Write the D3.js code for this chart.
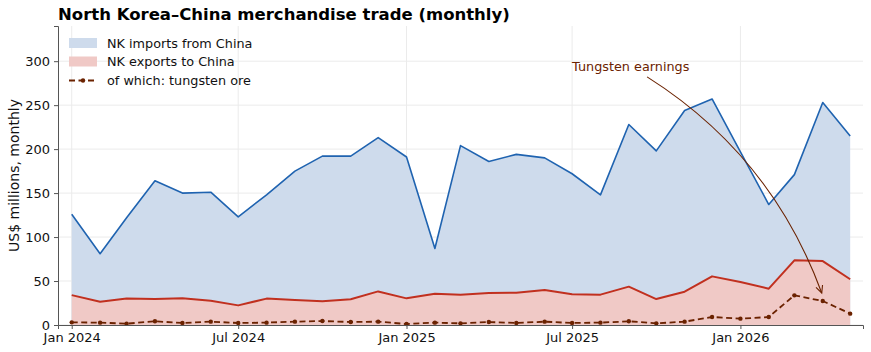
<!DOCTYPE html>
<html>
<head>
<meta charset="utf-8">
<script src="https://cdn.jsdelivr.net/npm/d3@7"></script>
<style>
  body { margin: 0; background: #fff; }
  svg { font-family: "DejaVu Sans", sans-serif; }
</style>
</head>
<body>
<div id="chart"></div>
<script>
// monthly values, Jan 2024 .. May 2026 (US$ millions)
const months = d3.timeMonths(new Date(2024, 0, 1), new Date(2026, 5, 1));
const imports = [126, 81, 122, 164, 150, 151, 123, 148, 175, 192, 192, 213,
                 191, 87, 204, 186, 194, 190, 172, 148, 228, 198, 244, 257,
                 197, 137, 171, 253, 215];
const exports = [34, 26.5, 30, 29.5, 30.5, 27.7, 22.3, 30, 28.4, 27, 29.2, 38.2,
                 30.3, 35.6, 34.5, 36.4, 36.7, 39.8, 35, 34.5, 43.6, 29.5, 37.9, 55.3,
                 48.9, 41.3, 73.5, 72.7, 52];
const tungsten = [3, 2.7, 1.5, 4.2, 2.3, 3.8, 2.3, 2.7, 3.8, 4.5, 3.4, 3.8,
                  1.1, 2.7, 1.9, 3.4, 2.3, 3.8, 2.3, 2.7, 4.2, 1.9, 3.8, 9.1,
                  7.2, 9.1, 33.7, 27.3, 12.9];
const yTicks = [0, 50, 100, 150, 200, 250, 300];
const xTicks = [new Date(2024, 0, 1), new Date(2024, 6, 1), new Date(2025, 0, 1),
                new Date(2025, 6, 1), new Date(2026, 0, 1)];
const legendItems = ["NK imports from China", "NK exports to China", "of which: tungsten ore"];

const data = months.map((m, i) => ({ date: m, imp: imports[i], exp: exports[i], tun: tungsten[i] }));

const width = 871, height = 352;
const margin = { top: 26, right: 8, bottom: 27, left: 58 };

const svg = d3.select("#chart").append("svg")
    .attr("width", width)
    .attr("height", height);

const x = d3.scaleTime()
    .domain([d3.timeDay.offset(months[0], -15), d3.timeDay.offset(months[months.length - 1], 14)])
    .range([margin.left, width - margin.right]);
const y = d3.scaleLinear()
    .domain([0, 340])
    .range([height - margin.bottom, margin.top]);

const blueLine = "#1f63b0", blueFill = "#cedbec";
const redLine = "#c1301f", redFill = "#f0c9c6";
const brown = "#6b2200";

// grid
svg.append("g").selectAll("line")
    .data(yTicks).join("line")
    .attr("x1", margin.left).attr("x2", width - margin.right)
    .attr("y1", d => y(d)).attr("y2", d => y(d))
    .attr("stroke", "#ebebeb").attr("stroke-width", 1);
svg.append("g").selectAll("line")
    .data(xTicks).join("line")
    .attr("x1", d => x(d)).attr("x2", d => x(d))
    .attr("y1", margin.top).attr("y2", height - margin.bottom)
    .attr("stroke", "#ebebeb").attr("stroke-width", 1);

// areas + lines
const area = key => d3.area().x(d => x(d.date)).y0(y(0)).y1(d => y(d[key]));
const line = key => d3.line().x(d => x(d.date)).y(d => y(d[key]));

svg.append("path").datum(data).attr("d", area("imp")).attr("fill", blueFill);
svg.append("path").datum(data).attr("d", area("exp")).attr("fill", redFill);

svg.append("path").datum(data).attr("d", line("imp"))
    .attr("fill", "none").attr("stroke", blueLine).attr("stroke-width", 1.6)
    .attr("stroke-linejoin", "round");
svg.append("path").datum(data).attr("d", line("exp"))
    .attr("fill", "none").attr("stroke", redLine).attr("stroke-width", 2)
    .attr("stroke-linejoin", "round");
svg.append("path").datum(data).attr("d", line("tun"))
    .attr("fill", "none").attr("stroke", brown).attr("stroke-width", 1.8)
    .attr("stroke-dasharray", "6,3.5");
svg.append("g").selectAll("circle")
    .data(data).join("circle")
    .attr("cx", d => x(d.date)).attr("cy", d => y(d.tun))
    .attr("r", 2.2).attr("fill", brown);

// axes
const yAxis = svg.append("g")
    .attr("transform", `translate(${margin.left},0)`)
    .call(d3.axisLeft(y).tickValues(yTicks).tickSize(4).tickPadding(4));
const xAxis = svg.append("g")
    .attr("transform", `translate(0,${height - margin.bottom})`)
    .call(d3.axisBottom(x).tickValues(xTicks).tickFormat(d3.timeFormat("%b %Y")).tickSize(4).tickPadding(4));
[xAxis, yAxis].forEach(a => {
    a.select(".domain").attr("stroke", "#555").attr("stroke-width", 1);
    a.selectAll(".tick line").attr("stroke", "#555");
    a.selectAll("text").attr("font-size", 13).attr("fill", "#111")
        .attr("font-family", "DejaVu Sans");
});

svg.append("text")
    .attr("transform", `translate(19,${(margin.top + height - margin.bottom) / 2}) rotate(-90)`)
    .attr("text-anchor", "middle")
    .attr("font-size", 14).attr("fill", "#111")
    .text("US$ millions, monthly");

svg.append("text")
    .attr("x", margin.left).attr("y", 20)
    .attr("font-size", 16.5).attr("font-weight", "bold").attr("fill", "#000")
    .text("North Korea\u2013China merchandise trade (monthly)");

// legend
const lg = svg.append("g").attr("transform", "translate(69,43)");
lg.append("rect").attr("x", 0).attr("y", -5).attr("width", 28).attr("height", 10).attr("fill", blueFill);
lg.append("rect").attr("x", 0).attr("y", 13.5).attr("width", 28).attr("height", 10).attr("fill", redFill);
lg.append("line").attr("x1", 0).attr("x2", 28).attr("y1", 37.5).attr("y2", 37.5)
    .attr("stroke", brown).attr("stroke-width", 1.8).attr("stroke-dasharray", "6,3.5");
lg.append("circle").attr("cx", 14).attr("cy", 37.5).attr("r", 2.2).attr("fill", brown);
lg.selectAll("text")
    .data(legendItems).join("text")
    .attr("x", 38).attr("y", (d, i) => i * 18.5 + 4.5)
    .attr("font-size", 12.8).attr("fill", "#111")
    .text(d => d);

// annotation
const target = data[27];
const tx = x(new Date(2025, 6, 1)), ty = y(289);
svg.append("text")
    .attr("x", tx).attr("y", ty)
    .attr("font-size", 12.8).attr("fill", brown)
    .text("Tungsten earnings");

const x0 = tx + 75, y0 = ty + 6;
const x1 = x(target.date) - 1, y1 = y(target.tun) - 8;
const mx = (x0 + x1) / 2, my = (y0 + y1) / 2;
const rad = 0.17;
const ctrlX = mx + rad * (y1 - y0), ctrlY = my - rad * (x1 - x0);
svg.append("path")
    .attr("d", `M${x0},${y0} Q${ctrlX},${ctrlY} ${x1},${y1}`)
    .attr("fill", "none").attr("stroke", brown).attr("stroke-width", 1.1);
// arrowhead along the tangent at the end
const ang = Math.atan2(y1 - ctrlY, x1 - ctrlX);
const hl = 8, hw = 0.45;
svg.append("path")
    .attr("d", `M${x1 - hl * Math.cos(ang - hw)},${y1 - hl * Math.sin(ang - hw)} L${x1},${y1} L${x1 - hl * Math.cos(ang + hw)},${y1 - hl * Math.sin(ang + hw)}`)
    .attr("fill", "none").attr("stroke", brown).attr("stroke-width", 1.1);
</script>
</body>
</html>
